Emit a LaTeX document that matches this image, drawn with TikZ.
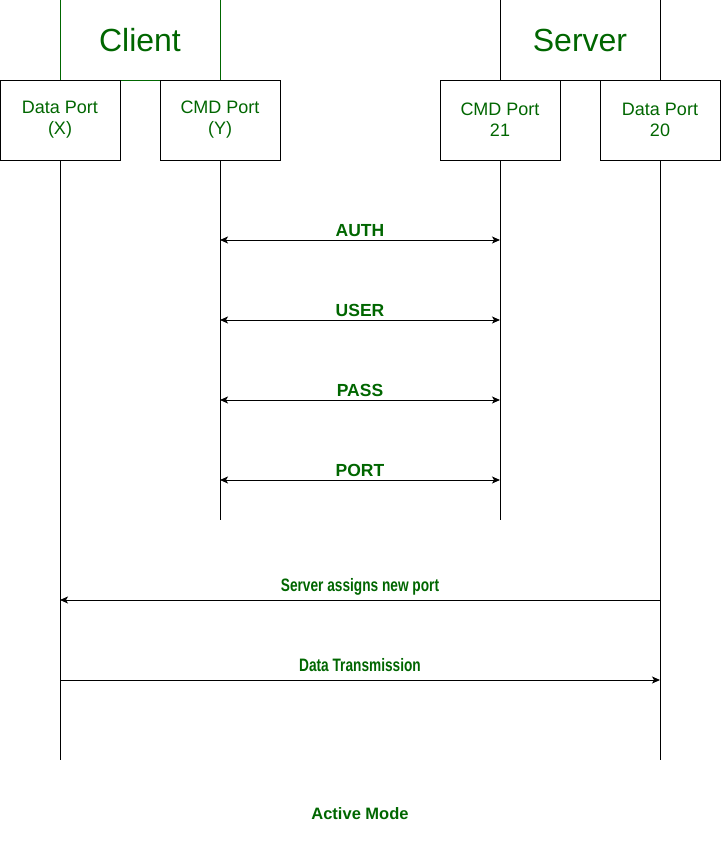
\documentclass[tikz,border=0pt]{standalone}
\usepackage{fontspec}
\setmainfont{Liberation Sans}
\newfontfamily\narrowfont[FakeStretch=0.76]{Liberation Sans}
\usepackage{tikz}
\usetikzlibrary{positioning,arrows.meta,calc}
\definecolor{lblgreen}{RGB}{0,102,0}

\tikzset{
  hostbox/.style={draw, line width=1pt, minimum width=160pt, minimum height=80pt,
    inner sep=0pt, text=lblgreen, font=\fontsize{32}{36}\selectfont},
  portbox/.style={draw, line width=1pt, minimum width=120pt, minimum height=80pt,
    inner sep=0pt, align=center, text=lblgreen, font=\fontsize{18}{21}\selectfont},
  lifeline/.style={line width=1pt},
  msgtip/.tip={Stealth[length=8pt,width=7pt,inset=2pt]},
  msg/.style={line width=1pt},
  msglbl/.style={midway, anchor=base, inner sep=0pt, text=lblgreen,
    font=\fontsize{17.5}{20}\selectfont\bfseries},
  datalbl/.style={msglbl, font=\fontsize{18}{20}\selectfont\narrowfont\bfseries},
}

\begin{document}
\begin{tikzpicture}[x=1pt,y=-1pt]
\useasboundingbox (0,0) rectangle (721,851);

% hosts
\node[hostbox, draw=lblgreen] (client) at (140,40) {Client};
\node[hostbox] (server) at (580,40) {Server};

% ports
\node[portbox] (cdata) at ( 60,120) {Data Port\\(X)};
\node[portbox] (ccmd)  at (220,120) {CMD Port\\(Y)};
\node[portbox] (scmd)  at (500,120) {CMD Port\\21};
\node[portbox] (sdata) at (660,120) {Data Port\\20};

% lifelines
\coordinate (cdata-end) at ( 60,760);
\coordinate (ccmd-end)  at (220,520);
\coordinate (scmd-end)  at (500,520);
\coordinate (sdata-end) at (660,760);
\foreach \p in {cdata,ccmd,scmd,sdata}{\draw[lifeline] (\p.south) -- (\p-end);}

% command channel
\foreach \y/\txt in {240/AUTH,320/USER,400/PASS,480/PORT}{
  \draw[msg, msgtip-msgtip] (ccmd.south |- 0,\y) -- node[msglbl, yshift=4pt] {\txt} (scmd.south |- 0,\y);
}

% data channel
\draw[msg, -msgtip] (sdata.south |- 0,600) -- node[datalbl, yshift=9pt] {Server assigns new port} (cdata.south |- 0,600);
\draw[msg, -msgtip] (cdata.south |- 0,680) -- node[datalbl, yshift=9pt] {Data Transmission} (sdata.south |- 0,680);

\node[anchor=base, inner sep=0pt, text=lblgreen, font=\fontsize{16.5}{20}\selectfont\bfseries] (mode) at (360,819) {Active Mode};
\end{tikzpicture}
\end{document}
